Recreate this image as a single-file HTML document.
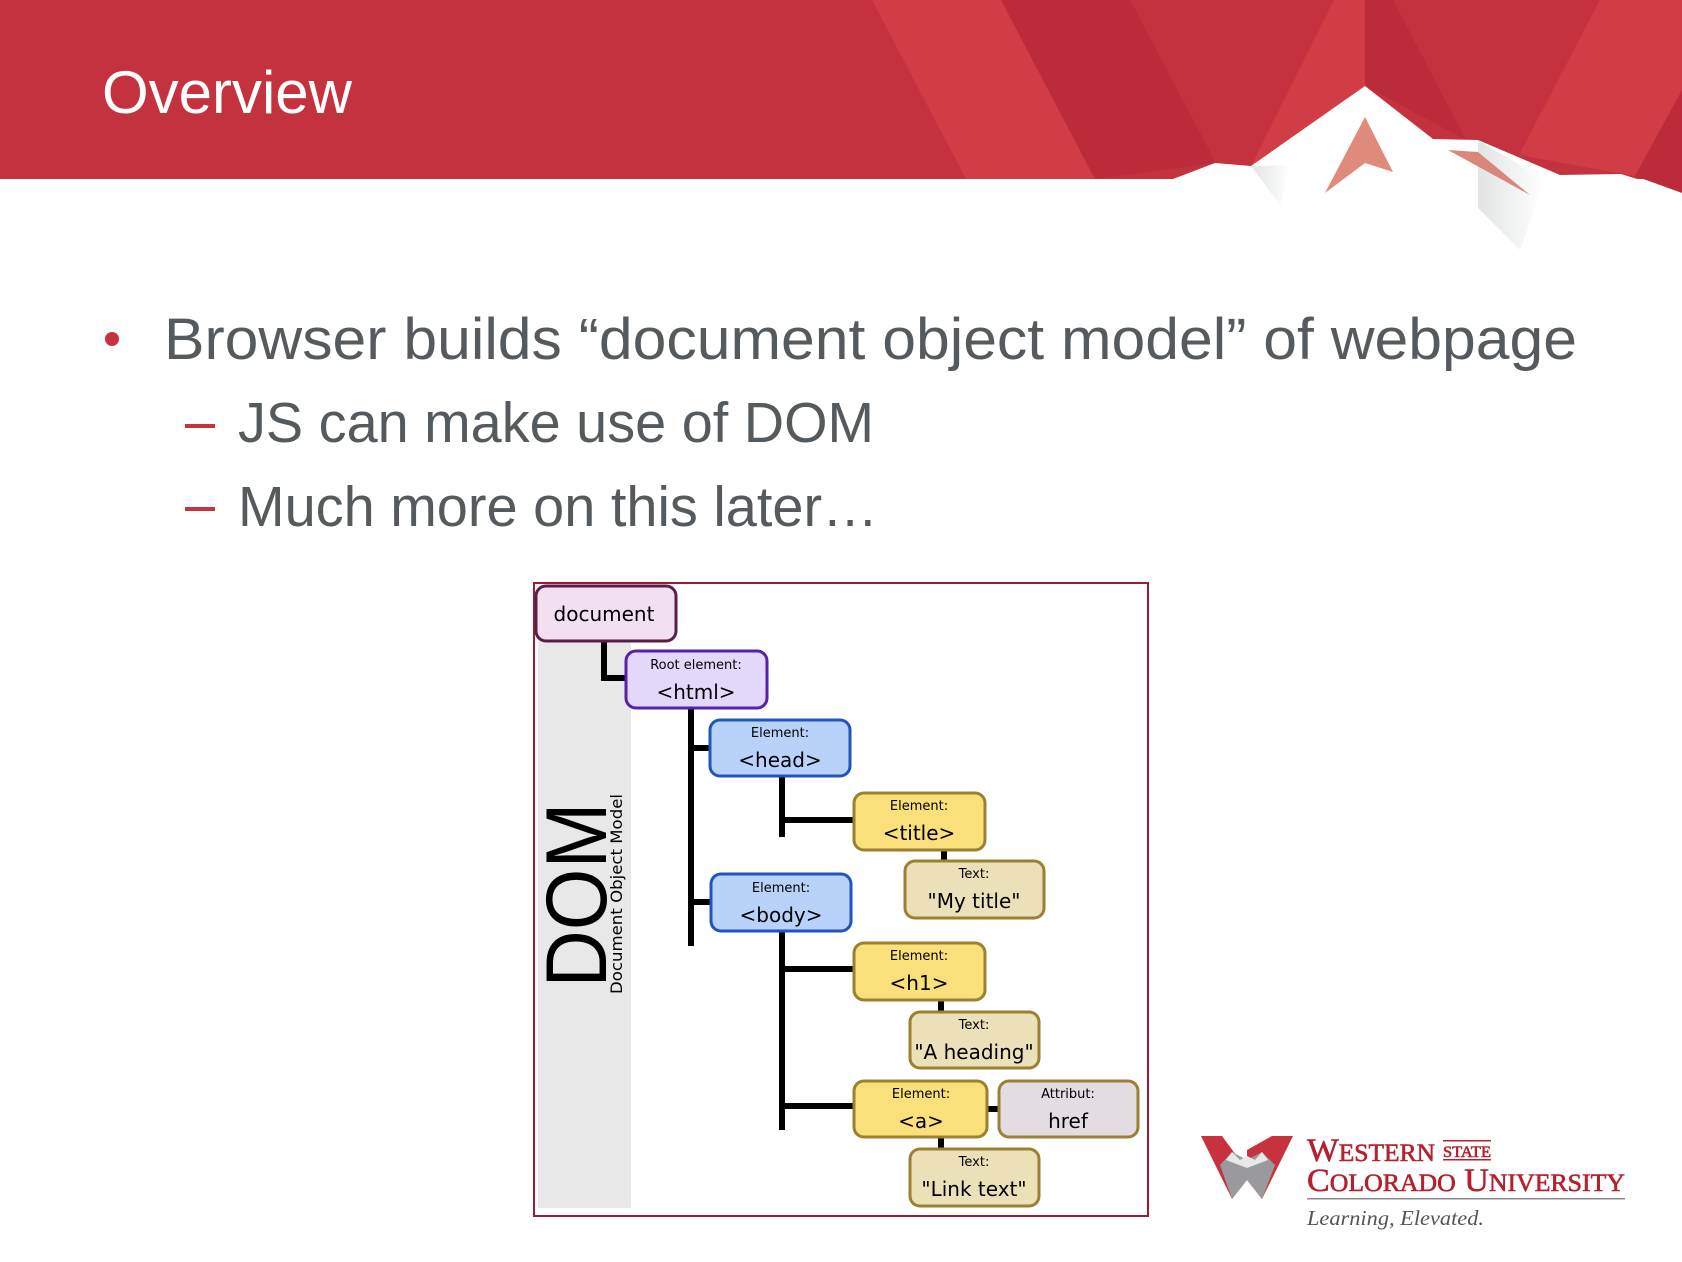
<!DOCTYPE html>
<html><head><meta charset="utf-8"><style>
html,body{margin:0;padding:0;background:#fff;}
svg{display:block;}
</style></head><body>
<svg width="1682" height="1262" viewBox="0 0 1682 1262" xmlns="http://www.w3.org/2000/svg">
<defs>
<linearGradient id="g1" x1="0" x2="1" y1="0" y2="0"><stop offset="0" stop-color="#e2e4e4"/><stop offset="1" stop-color="#ffffff"/></linearGradient>
</defs>
<rect x="0" y="0" width="1682" height="179" fill="#c5323f"/>
<polygon points="872,0 1001,0 1095,179 966,179" fill="#d03d46"/>
<polygon points="1001,0 1130,0 1216,163 1095,179" fill="#bb2b3a"/>
<polygon points="1334,0 1365,0 1365,86 1251,166" fill="#d03d46"/>
<polygon points="1365,0 1393,0 1466,140 1365,86" fill="#bb2b3a"/>
<polygon points="1600,0 1682,0 1682,90 1635,176 1519,155" fill="#d03d46"/>
<polygon points="1682,90 1682,193 1635,176" fill="#bb2b3a"/>
<polygon points="0,179 1173,179 1215,163 1251,166 1365,86 1433,139 1478,140 1560,175 1621,174 1682,193 1682,1262 0,1262" fill="#ffffff"/>
<polygon points="1251,166 1290,165 1280,205" fill="url(#g1)"/>
<polygon points="1478,140 1478,208 1520,250 1545,180" fill="url(#g1)"/>
<polygon points="1365,117 1325,193 1365,163 1393,172" fill="#e08a7b"/>
<polygon points="1448,150 1530,195 1478,152" fill="#d8877a"/>
<text x="102" y="113" font-family="Liberation Sans, sans-serif" font-size="60" fill="#ffffff" textLength="250">Overview</text>

<circle cx="112" cy="339" r="7" fill="#c8323f"/>
<text x="164" y="359" font-family="Liberation Sans, sans-serif" font-size="58" fill="#555a5f" textLength="1413" lengthAdjust="spacingAndGlyphs">Browser builds “document object model” of webpage</text>
<rect x="185" y="424" width="30" height="4" fill="#c8323f"/>
<text x="238" y="442" font-family="Liberation Sans, sans-serif" font-size="57" fill="#555a5f" textLength="636" lengthAdjust="spacingAndGlyphs">JS can make use of DOM</text>
<rect x="185" y="507" width="30" height="4" fill="#c8323f"/>
<text x="238" y="526" font-family="Liberation Sans, sans-serif" font-size="57" fill="#555a5f" textLength="640" lengthAdjust="spacingAndGlyphs">Much more on this later…</text>

<rect x="534" y="583" width="614" height="633" fill="#fff" stroke="#9b1b30" stroke-width="2"/>
<rect x="538" y="600" width="93" height="608" fill="#e8e8e8"/>
<text transform="translate(606,895) rotate(-90)" text-anchor="middle" font-family="Liberation Sans, sans-serif" font-size="86" fill="#000" textLength="185" lengthAdjust="spacingAndGlyphs">DOM</text>
<text transform="translate(622,894) rotate(-90)" text-anchor="middle" font-family="DejaVu Sans, sans-serif" font-size="16" fill="#000" textLength="200" lengthAdjust="spacingAndGlyphs">Document Object Model</text>

<g stroke="#000" stroke-width="6" fill="none">
<polyline points="604,641 604,678 626,678"/>
<line x1="691" y1="708" x2="691" y2="946"/>
<line x1="691" y1="748" x2="710" y2="748"/>
<line x1="691" y1="902" x2="711" y2="902"/>
<line x1="782" y1="776" x2="782" y2="837"/>
<line x1="782" y1="820" x2="854" y2="820"/>
<line x1="944" y1="850" x2="944" y2="861"/>
<line x1="782" y1="931" x2="782" y2="1130"/>
<line x1="782" y1="969" x2="854" y2="969"/>
<line x1="782" y1="1106" x2="854" y2="1106"/>
<line x1="941" y1="1000" x2="941" y2="1012"/>
<line x1="941" y1="1137" x2="941" y2="1149"/>
<line x1="987" y1="1109" x2="999" y2="1109"/>
</g>

<g font-family="DejaVu Sans, sans-serif" text-anchor="middle" fill="#000">
<rect x="536" y="586" width="140" height="55" rx="10" fill="#f2dff0" stroke="#5a1e4a" stroke-width="3"/>
<text x="604" y="621" font-size="20">document</text>
<rect x="626" y="651" width="141" height="57" rx="10" fill="#e3d8fa" stroke="#5522aa" stroke-width="3"/>
<text x="696" y="669" font-size="13">Root element:</text>
<text x="696" y="699" font-size="20">&lt;html&gt;</text>
<rect x="710" y="720" width="140" height="56" rx="10" fill="#b8d2fa" stroke="#2255bb" stroke-width="3"/>
<text x="780" y="737" font-size="13">Element:</text>
<text x="780" y="767" font-size="20">&lt;head&gt;</text>
<rect x="854" y="793" width="131" height="57" rx="10" fill="#f9e07a" stroke="#9a8030" stroke-width="3"/>
<text x="919" y="810" font-size="13">Element:</text>
<text x="919" y="840" font-size="20">&lt;title&gt;</text>
<rect x="905" y="861" width="139" height="57" rx="10" fill="#ece0b8" stroke="#9a8030" stroke-width="3"/>
<text x="974" y="878" font-size="13">Text:</text>
<text x="974" y="908" font-size="20">"My title"</text>
<rect x="711" y="874" width="140" height="57" rx="10" fill="#b8d2fa" stroke="#2255bb" stroke-width="3"/>
<text x="781" y="892" font-size="13">Element:</text>
<text x="781" y="922" font-size="20">&lt;body&gt;</text>
<rect x="854" y="943" width="131" height="57" rx="10" fill="#f9e07a" stroke="#9a8030" stroke-width="3"/>
<text x="919" y="960" font-size="13">Element:</text>
<text x="919" y="990" font-size="20">&lt;h1&gt;</text>
<rect x="910" y="1012" width="129" height="56" rx="10" fill="#ece0b8" stroke="#9a8030" stroke-width="3"/>
<text x="974" y="1029" font-size="13">Text:</text>
<text x="974" y="1059" font-size="20">"A heading"</text>
<rect x="854" y="1081" width="133" height="56" rx="10" fill="#f9e07a" stroke="#9a8030" stroke-width="3"/>
<text x="921" y="1098" font-size="13">Element:</text>
<text x="921" y="1128" font-size="20">&lt;a&gt;</text>
<rect x="999" y="1081" width="139" height="56" rx="10" fill="#e3dde3" stroke="#9a8030" stroke-width="3"/>
<text x="1068" y="1098" font-size="13">Attribut:</text>
<text x="1068" y="1128" font-size="20">href</text>
<rect x="910" y="1149" width="129" height="57" rx="10" fill="#ece0b8" stroke="#9a8030" stroke-width="3"/>
<text x="974" y="1166" font-size="13">Text:</text>
<text x="974" y="1196" font-size="20">"Link text"</text>
</g>

<polygon points="1201,1136 1222,1136 1247,1170 1247,1150 1272,1136 1293,1136 1262,1199 1247,1180 1232,1199" fill="#c8323f"/>
<polygon points="1220,1165 1232,1152 1247,1160 1262,1152 1275,1165 1262,1199 1247,1180 1232,1199" fill="#9a9a9c"/>
<polygon points="1232,1152 1240,1160 1247,1156 1255,1160 1262,1152 1268,1160 1247,1168 1226,1160" fill="#e8e8e8"/>
<g font-family="Liberation Serif, serif" fill="#b5202e" stroke="#b5202e" stroke-width="0.6">
<text x="1307" y="1161" font-size="33" textLength="128" lengthAdjust="spacingAndGlyphs">W<tspan font-size="25">ESTERN</tspan></text>
<text x="1443" y="1157" font-size="16" textLength="48" lengthAdjust="spacingAndGlyphs">STATE</text>
<text x="1307" y="1191" font-size="33" textLength="318" lengthAdjust="spacingAndGlyphs">C<tspan font-size="25">OLORADO</tspan> U<tspan font-size="25">NIVERSITY</tspan></text>
</g>
<rect x="1443" y="1140" width="48" height="1.5" fill="#b5202e"/>
<rect x="1443" y="1159" width="48" height="1.5" fill="#b5202e"/>
<rect x="1307" y="1198" width="318" height="1.5" fill="#8a8a8a"/>
<text x="1307" y="1225" font-family="Liberation Serif, serif" font-style="italic" font-size="21" fill="#555" textLength="177" lengthAdjust="spacingAndGlyphs">Learning, Elevated.</text>
</svg>
</body></html>
